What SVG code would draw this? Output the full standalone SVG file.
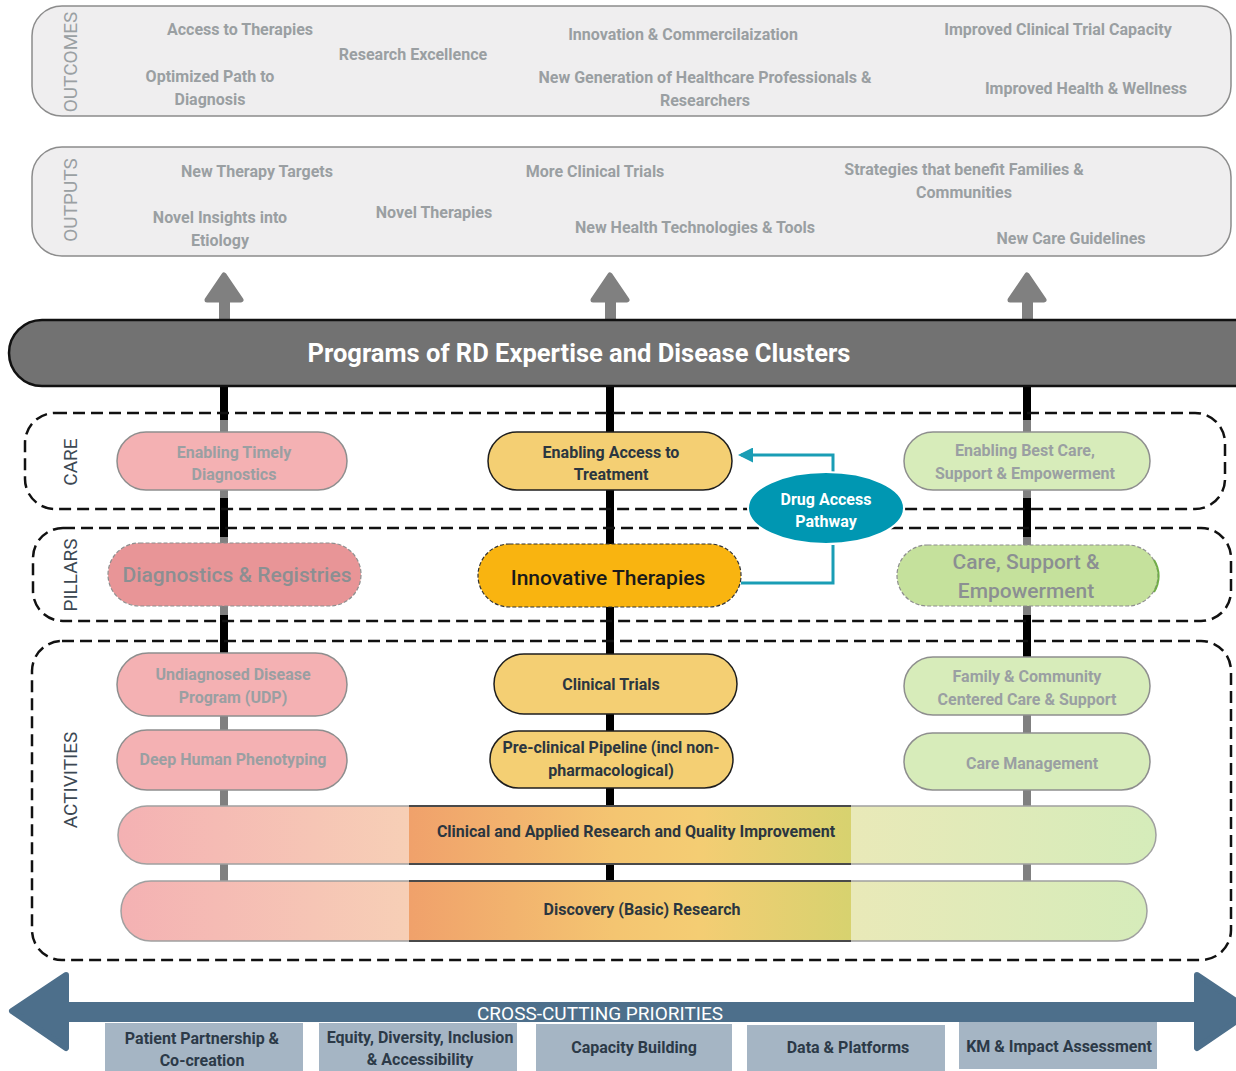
<svg xmlns="http://www.w3.org/2000/svg" width="1236" height="1071" viewBox="0 0 1236 1071">
<defs>
<style>
text{font-family:Roboto,"Liberation Sans",sans-serif;}
.o{font-size:16px;font-weight:700;fill:#9a9fa2;text-anchor:middle;}
.vl{font-size:19px;font-weight:400;fill:#9aa0a3;text-anchor:middle;}
.vd{font-size:19px;font-weight:400;fill:#3c4853;text-anchor:middle;}
.nf{font-size:16px;font-weight:700;fill:#9a9fa2;text-anchor:middle;}
.nd{font-size:16px;font-weight:700;fill:#2b3640;text-anchor:middle;}
.pf{font-size:21px;font-weight:500;fill:#8b8f92;text-anchor:middle;}
.bx{font-size:16px;font-weight:700;fill:#2c3a48;text-anchor:middle;}
.panel{fill:#efeeef;stroke:#8c8c8c;stroke-width:1.5;}
.dash{fill:none;stroke:#111;stroke-width:2.5;stroke-dasharray:12 6;}
.pink{fill:#f4b1b3;stroke:#8e8e8e;stroke-width:1.5;}
.yel{fill:#f4cf73;stroke:#1e1e1e;stroke-width:1.5;}
.grn{fill:#d7ecba;stroke:#8e8e8e;stroke-width:1.5;}
.blk{fill:#000;}
.gry{fill:#808080;}
.up{fill:#808080;stroke:#808080;stroke-width:5;stroke-linejoin:round;}
.cc{fill:#4d6f8b;stroke:#4d6f8b;stroke-width:6;stroke-linejoin:round;}
.pbox{fill:#a5b5c4;}
.teal{fill:none;stroke:#1a9db5;stroke-width:3;}
</style>
<linearGradient id="bar" gradientUnits="userSpaceOnUse" x1="118" y1="0" x2="1156" y2="0">
<stop offset="0" stop-color="#f4b1b3"/>
<stop offset="0.2803" stop-color="#f7cfb6"/>
<stop offset="0.2803" stop-color="#f0a16b"/>
<stop offset="0.48" stop-color="#f4c571"/>
<stop offset="0.56" stop-color="#f4cd73"/>
<stop offset="0.7062" stop-color="#d7d26f"/>
<stop offset="0.7062" stop-color="#e9e9b8"/>
<stop offset="1" stop-color="#d5ecba"/>
</linearGradient>
<marker id="ah" viewBox="0 0 10 10" refX="8" refY="5" markerWidth="5" markerHeight="5" orient="auto-start-reverse" markerUnits="strokeWidth">
<path d="M0,0 L10,5 L0,10 z" fill="#1a9db5"/>
</marker>
</defs>

<g id="outcomes">
<rect class="panel" x="32" y="6" width="1199" height="110" rx="30"/>
<text class="vl" transform="translate(77,62) rotate(-90)">OUTCOMES</text>
<text class="o" x="240" y="35">Access to Therapies</text>
<text class="o" x="413" y="60">Research Excellence</text>
<text class="o" x="210" y="82">Optimized Path to</text>
<text class="o" x="210" y="105">Diagnosis</text>
<text class="o" x="683" y="40">Innovation &amp; Commercilaization</text>
<text class="o" x="705" y="83">New Generation of Healthcare Professionals &amp;</text>
<text class="o" x="705" y="106">Researchers</text>
<text class="o" x="1058" y="35">Improved Clinical Trial Capacity</text>
<text class="o" x="1086" y="94">Improved Health &amp; Wellness</text>
</g>

<g id="outputs">
<rect class="panel" x="32" y="147" width="1199" height="109" rx="30"/>
<text class="vl" transform="translate(77,200) rotate(-90)">OUTPUTS</text>
<text class="o" x="257" y="177">New Therapy Targets</text>
<text class="o" x="220" y="223">Novel Insights into</text>
<text class="o" x="220" y="246">Etiology</text>
<text class="o" x="434" y="218">Novel Therapies</text>
<text class="o" x="595" y="177">More Clinical Trials</text>
<text class="o" x="695" y="233">New Health Technologies &amp; Tools</text>
<text class="o" x="964" y="175">Strategies that benefit Families &amp;</text>
<text class="o" x="964" y="198">Communities</text>
<text class="o" x="1071" y="244">New Care Guidelines</text>
</g>

<g id="connectors">
<rect class="gry" x="219" y="298" width="11" height="24"/>
<polygon class="up" points="207,300 224,275 241,300"/>
<rect class="gry" x="605" y="298" width="11" height="24"/>
<polygon class="up" points="593,300 610,275 627,300"/>
<rect class="gry" x="1022" y="298" width="11" height="24"/>
<polygon class="up" points="1010,300 1027,275 1044,300"/>

<rect class="blk" x="220" y="386" width="8" height="520"/>
<rect class="blk" x="606" y="386" width="8" height="520"/>
<rect class="blk" x="1023" y="386" width="8" height="520"/>
<rect class="gry" x="220" y="420" width="8" height="14"/>
<rect class="gry" x="220" y="488" width="8" height="10"/>
<rect class="gry" x="220" y="537" width="8" height="8"/>
<rect class="gry" x="220" y="604" width="8" height="11"/>
<rect class="gry" x="220" y="714" width="8" height="200"/>
<rect class="gry" x="1023" y="420" width="8" height="14"/>
<rect class="gry" x="1023" y="488" width="8" height="10"/>
<rect class="gry" x="1023" y="537" width="8" height="10"/>
<rect class="gry" x="1023" y="604" width="8" height="11"/>
<rect class="gry" x="1023" y="713" width="8" height="200"/>

<path class="teal" d="M833,472 V455 H741" marker-end="url(#ah)"/>
<path class="teal" d="M833,545 V583 H741"/>
</g>

<g id="programs">
<rect x="9" y="320" width="1270" height="66" rx="33" fill="#727272" stroke="#111" stroke-width="2.5"/>
<text x="579" y="362" font-size="25.5" font-weight="700" fill="#fff" text-anchor="middle">Programs of RD Expertise and Disease Clusters</text>
</g>

<g id="care-group">
<rect class="dash" x="25" y="413" width="1200" height="96" rx="30"/>
<text class="vd" transform="translate(77,462) rotate(-90)">CARE</text>
</g>
<g id="pillars-group">
<rect class="dash" x="33" y="528" width="1198" height="93" rx="30"/>
<text class="vd" transform="translate(77,575) rotate(-90)">PILLARS</text>
</g>
<g id="activities-group">
<rect class="dash" x="32" y="641" width="1199" height="319" rx="30"/>
<text class="vd" transform="translate(77,780) rotate(-90)">ACTIVITIES</text>
</g>

<g id="n-timely">
<rect class="pink" x="117" y="432" width="230" height="58" rx="29"/>
<text class="nf" x="234" y="458">Enabling Timely</text>
<text class="nf" x="234" y="480">Diagnostics</text>
</g>
<g id="n-access">
<rect class="yel" x="488" y="432" width="244" height="58" rx="29"/>
<text class="nd" x="611" y="458">Enabling Access to</text>
<text class="nd" x="611" y="480">Treatment</text>
</g>
<g id="n-bestcare">
<rect class="grn" x="904" y="432" width="246" height="58" rx="29"/>
<text class="nf" x="1025" y="456">Enabling Best Care,</text>
<text class="nf" x="1025" y="479">Support &amp; Empowerment</text>
</g>
<g id="n-drug">
<ellipse cx="826" cy="508" rx="78" ry="36" fill="#0097b2" stroke="#fff" stroke-width="2"/>
<text x="826" y="505" font-size="16" font-weight="700" fill="#fff" text-anchor="middle">Drug Access</text>
<text x="826" y="527" font-size="16" font-weight="700" fill="#fff" text-anchor="middle">Pathway</text>
</g>

<g id="p-diag">
<rect x="108" y="543" width="253" height="63" rx="31.5" fill="#e89597" stroke="#8e8e8e" stroke-width="1.2" stroke-dasharray="4 2"/>
<text class="pf" x="237" y="582">Diagnostics &amp; Registries</text>
</g>
<g id="p-innov">
<rect x="478" y="544" width="263" height="63" rx="31.5" fill="#f9b410" stroke="#333" stroke-width="1.2" stroke-dasharray="4 2"/>
<text x="608" y="585" font-size="21" font-weight="500" fill="#1a1a1a" text-anchor="middle">Innovative Therapies</text>
</g>
<g id="p-care">
<rect x="897" y="545" width="261" height="61" rx="30.5" fill="#c5e19c" stroke="#8e8e8e" stroke-width="1.2" stroke-dasharray="4 2"/>
<path d="M1154,560 A30,30 0 0 1 1154,592" fill="none" stroke="#70ad47" stroke-width="2"/>
<text class="pf" x="1026" y="569">Care, Support &amp;</text>
<text class="pf" x="1026" y="598">Empowerment</text>
</g>

<g id="a-udp">
<rect class="pink" x="117" y="653" width="230" height="63" rx="31.5"/>
<text class="nf" x="233" y="680">Undiagnosed Disease</text>
<text class="nf" x="233" y="703">Program (UDP)</text>
</g>
<g id="a-deep">
<rect class="pink" x="117" y="730" width="230" height="60" rx="30"/>
<text class="nf" x="233" y="765">Deep Human Phenotyping</text>
</g>
<g id="a-trials">
<rect class="yel" x="494" y="654" width="243" height="60" rx="30"/>
<text class="nd" x="611" y="690">Clinical Trials</text>
</g>
<g id="a-preclin">
<rect class="yel" x="490" y="731" width="243" height="57" rx="28.5"/>
<text class="nd" x="611" y="753">Pre-clinical Pipeline (incl non-</text>
<text class="nd" x="611" y="776">pharmacological)</text>
</g>
<g id="a-family">
<rect class="grn" x="904" y="657" width="246" height="58" rx="29"/>
<text class="nf" x="1027" y="682">Family &amp; Community</text>
<text class="nf" x="1027" y="705">Centered Care &amp; Support</text>
</g>
<g id="a-caremgmt">
<rect class="grn" x="904" y="733" width="246" height="57" rx="28.5"/>
<text class="nf" x="1032" y="769">Care Management</text>
</g>
<g id="a-clinical">
<rect x="118" y="806" width="1038" height="58" rx="29" fill="url(#bar)" stroke="#a0a0a0" stroke-width="1.5"/>
<path d="M409,806 H851 M409,864 H851" stroke="#4a4a4a" stroke-width="1.8"/>
<text class="nd" x="636" y="837">Clinical and Applied Research and Quality Improvement</text>
</g>
<g id="a-discovery">
<rect x="121" y="881" width="1026" height="60" rx="30" fill="url(#bar)" stroke="#a0a0a0" stroke-width="1.5"/>
<path d="M409,881 H851 M409,941 H851" stroke="#4a4a4a" stroke-width="1.8"/>
<text class="nd" x="642" y="915">Discovery (Basic) Research</text>
</g>

<g id="cross-cutting">
<rect x="60" y="1002" width="1145" height="20" fill="#4d6f8b"/>
<polygon class="cc" points="66,975 12,1011 66,1048"/>
<polygon class="cc" points="1197,975 1251,1011 1197,1048"/>
<text x="600" y="1020" font-size="19" font-weight="400" fill="#fff" text-anchor="middle">CROSS-CUTTING PRIORITIES</text>
</g>
<g id="b-patient">
<rect class="pbox" x="105" y="1023" width="198" height="50"/>
<text class="bx" x="202" y="1044">Patient Partnership &amp;</text>
<text class="bx" x="202" y="1066">Co-creation</text>
</g>
<g id="b-equity">
<rect class="pbox" x="319" y="1023" width="198" height="50"/>
<text class="bx" x="420" y="1043">Equity, Diversity, Inclusion</text>
<text class="bx" x="420" y="1065">&amp; Accessibility</text>
</g>
<g id="b-capacity">
<rect class="pbox" x="536" y="1024" width="196" height="49"/>
<text class="bx" x="634" y="1053">Capacity Building</text>
</g>
<g id="b-data">
<rect class="pbox" x="747" y="1025" width="198" height="48"/>
<text class="bx" x="848" y="1053">Data &amp; Platforms</text>
</g>
<g id="b-km">
<rect class="pbox" x="959" y="1022" width="198" height="47"/>
<text class="bx" x="1059" y="1052">KM &amp; Impact Assessment</text>
</g>
</svg>
